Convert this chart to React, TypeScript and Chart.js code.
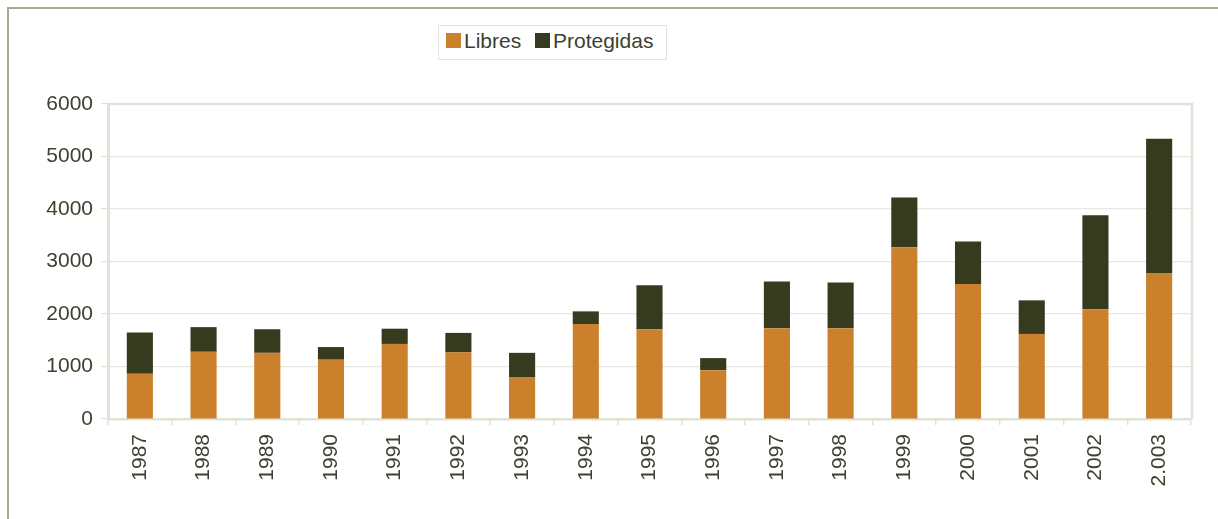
import React, { useEffect, useRef } from "react";
import { Chart, registerables } from "chart.js";

Chart.register(...registerables);

const years = ["1987", "1988", "1989", "1990", "1991", "1992", "1993", "1994", "1995", "1996", "1997", "1998", "1999", "2000", "2001", "2002", "2.003"];
const libres = [860, 1280, 1260, 1130, 1430, 1270, 790, 1810, 1710, 930, 1730, 1730, 3270, 2570, 1620, 2090, 2780];
const protegidas = [790, 470, 450, 240, 290, 370, 470, 240, 840, 230, 890, 870, 950, 810, 640, 1790, 2560];
const seriesNames = ["Libres", "Protegidas"];
const yMax = 6000;
const yStep = 1000;

const ORANGE = "#cb802b";
const DARK = "#363a1f";
const TEXT = "#3c4130";
const FRAME = "#dfe3d6";
const GRID = "#e6e8df";
const FONT = "'Liberation Sans', Arial, sans-serif";

const framePlugin = {
  id: "frame",
  beforeDatasetsDraw(chart: any) {
    const { ctx, chartArea } = chart;
    ctx.save();
    ctx.strokeStyle = FRAME;
    ctx.lineWidth = 2.5;
    ctx.beginPath();
    ctx.moveTo(chartArea.left, chartArea.top);
    ctx.lineTo(chartArea.right + 1, chartArea.top);
    ctx.lineTo(chartArea.right + 1, chartArea.bottom);
    ctx.stroke();
    ctx.restore();
  },
};

export default function App() {
  const ref = useRef<HTMLCanvasElement>(null);
  useEffect(() => {
    if (!ref.current) return;
    const chart = new Chart(ref.current, {
      type: "bar",
      data: {
        labels: years,
        datasets: [
          { label: seriesNames[0], data: libres, backgroundColor: ORANGE, borderWidth: 0 },
          { label: seriesNames[1], data: protegidas, backgroundColor: DARK, borderWidth: 0 },
        ],
      },
      options: {
        animation: false,
        responsive: false,
        devicePixelRatio: 1,
        layout: { padding: { left: 0, top: 104, right: 27, bottom: 0 } },
        plugins: { legend: { display: false }, tooltip: { enabled: false } },
        datasets: { bar: { categoryPercentage: 1, barPercentage: 0.41 } },
        scales: {
          x: {
            stacked: true,
            offset: true,
            grid: { display: true, offset: true, drawOnChartArea: false, drawTicks: true, tickLength: 6, color: FRAME, lineWidth: 1.5 },
            border: { display: true, color: FRAME, width: 2.5 },
            ticks: { color: TEXT, font: { family: FONT, size: 21 }, minRotation: 90, maxRotation: 90, padding: 9, autoSkip: false },
            afterFit(scale: any) { scale.height = 100; },
          },
          y: {
            stacked: true,
            min: 0,
            max: yMax,
            grid: { color: GRID, lineWidth: 1.2, tickLength: 7, tickColor: FRAME },
            border: { display: true, color: FRAME, width: 3 },
            ticks: {
              stepSize: yStep,
              color: TEXT,
              font: { family: FONT, size: 21 },
              padding: 8,
              callback: (v: any) => String(v),
            },
            afterFit(scale: any) { scale.width = 108; },
          },
        },
      },
      plugins: [framePlugin],
    });
    return () => chart.destroy();
  }, []);

  const legendText: React.CSSProperties = {
    position: "absolute",
    top: 0,
    lineHeight: "30px",
    fontFamily: FONT,
    fontSize: 21,
    color: TEXT,
    whiteSpace: "nowrap",
  };
  const sq = (left: number, color: string): React.CSSProperties => ({
    position: "absolute",
    left,
    top: 7,
    width: 15,
    height: 15,
    background: color,
  });

  return (
    <div style={{ position: "fixed", left: 0, top: 0, width: 1218, height: 519, overflow: "hidden", background: "#fff" }}>
      <div style={{ position: "absolute", left: 7, top: 7, width: 1400, height: 700, border: "2px solid #a4ab8c" }} />
      <canvas ref={ref} width={1218} height={519} style={{ position: "absolute", left: 0, top: 0, width: 1218, height: 519 }} />
      <div style={{ position: "absolute", left: 438, top: 25, width: 229, height: 35, boxSizing: "border-box", border: "1px solid #e3e5dd", background: "#fff" }}>
        <div style={sq(7, ORANGE)} />
        <div style={{ ...legendText, left: 25 }}>{seriesNames[0]}</div>
        <div style={sq(96, DARK)} />
        <div style={{ ...legendText, left: 114 }}>{seriesNames[1]}</div>
      </div>
    </div>
  );
}
